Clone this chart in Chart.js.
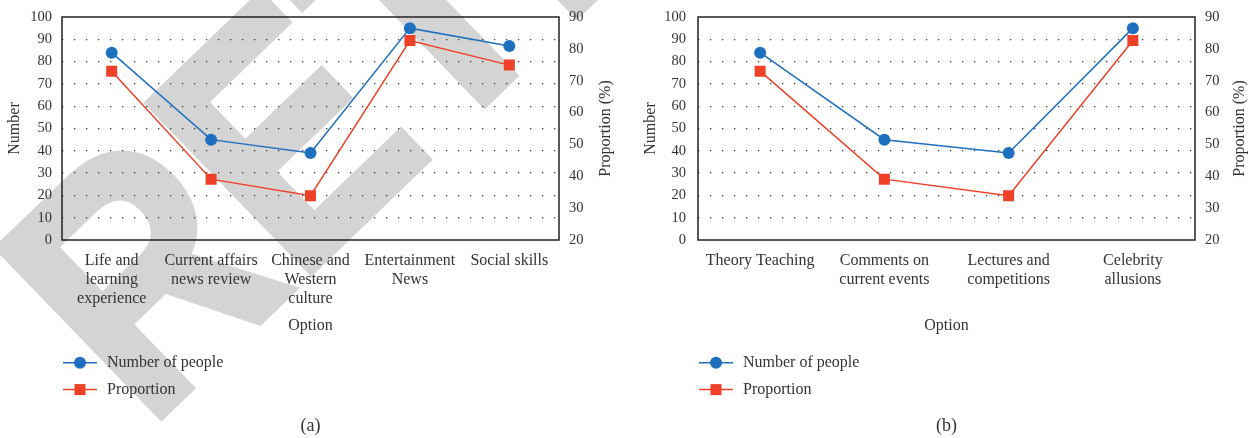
<!DOCTYPE html>
<html>
<head>
<meta charset="utf-8">
<script src="https://cdn.jsdelivr.net/npm/chart.js@4.4.1/dist/chart.umd.min.js"></script>
<style>
  html, body { margin: 0; padding: 0; background: #ffffff; }
  .panel { position: absolute; top: 0; width: 625px; height: 438px; }
  #panelA { left: 0; }
  #panelB { left: 628px; }
</style>
</head>
<body>
<div class="panel" id="panelA"><canvas id="chartA" width="625" height="438"></canvas></div>
<div class="panel" id="panelB"><canvas id="chartB" width="625" height="438"></canvas></div>
<script>
// Panel (a): options and survey results
const optionsA = [
  ['Life and', 'learning', 'experience'],
  ['Current affairs', 'news review'],
  ['Chinese and', 'Western', 'culture'],
  ['Entertainment', 'News'],
  'Social skills'
];
const peopleA = [84, 45, 39, 95, 87];
const proportionA = [73.0, 39.1, 33.9, 82.6, 74.9];

// Panel (b): options and survey results
const optionsB = [
  'Theory Teaching',
  ['Comments on', 'current events'],
  ['Lectures and', 'competitions'],
  ['Celebrity', 'allusions']
];
const peopleB = [84, 45, 39, 95];
const proportionB = [73.0, 39.1, 33.9, 82.6];

// Axis ranges
const numberAxis = { min: 0, max: 100, step: 10 };
const proportionAxis = { min: 20, max: 90, step: 10 };

const SERIF = '"Liberation Serif", "DejaVu Serif", serif';
const BLUE = '#1F6FBF';
const RED = '#EE4127';
const TEXT = '#333333';

const decorPlugin = {
  id: 'decor',
  beforeDraw(chart, args, opts) {
    if (!opts.watermark) return;
    const ctx = chart.ctx;
    const w = opts.watermark;
    ctx.save();
    ctx.translate(w.x, w.y);
    ctx.rotate(w.angle * Math.PI / 180);
    ctx.scale(w.squeeze, 1);
    ctx.font = 'bold ' + w.size + 'px "Liberation Sans", "DejaVu Sans", sans-serif';
    ctx.fillStyle = '#d4d4d4';
    ctx.strokeStyle = '#d4d4d4';
    ctx.lineWidth = w.weight;
    ctx.lineJoin = 'miter';
    ctx.textBaseline = 'alphabetic';
    ctx.textAlign = 'left';
    ctx.fillText(w.text, 0, 0);
    ctx.strokeText(w.text, 0, 0);
    ctx.restore();
  },
  afterDraw(chart, args, opts) {
    const ctx = chart.ctx;
    const a = chart.chartArea;
    ctx.save();
    // plot frame
    ctx.strokeStyle = '#222222';
    ctx.lineWidth = 1.5;
    ctx.strokeRect(Math.round(a.left), Math.round(a.top), Math.round(a.right - a.left), Math.round(a.bottom - a.top));

    // right axis title, reading upward
    ctx.save();
    ctx.translate(a.right + opts.rightTitleGap, (a.top + a.bottom) / 2);
    ctx.rotate(-Math.PI / 2);
    ctx.font = '16px ' + SERIF;
    ctx.fillStyle = TEXT;
    ctx.textAlign = 'center';
    ctx.textBaseline = 'middle';
    ctx.fillText('Proportion (%)', 0, 0);
    ctx.restore();

    // legend, one entry per row
    chart.data.datasets.forEach((ds, i) => {
      const y = opts.legendRows[i];
      const x0 = a.left + 1, x1 = a.left + 35, xm = a.left + 18;
      ctx.strokeStyle = ds.borderColor;
      ctx.lineWidth = 1.5;
      ctx.beginPath();
      ctx.moveTo(x0, y);
      ctx.lineTo(x1, y);
      ctx.stroke();
      ctx.fillStyle = ds.backgroundColor;
      Chart.helpers.drawPoint(ctx, {
        pointStyle: ds.pointStyle,
        radius: ds.pointRadius,
        rotation: 0,
        borderWidth: 0
      }, xm, y);
      ctx.font = '16px ' + SERIF;
      ctx.fillStyle = TEXT;
      ctx.textAlign = 'left';
      ctx.textBaseline = 'middle';
      ctx.fillText(ds.label, a.left + 45, y);
    });

    // panel caption
    ctx.font = '18px ' + SERIF;
    ctx.fillStyle = TEXT;
    ctx.textAlign = 'center';
    ctx.textBaseline = 'middle';
    ctx.fillText(opts.caption, (a.left + a.right) / 2, opts.captionY);
    ctx.restore();
  }
};

function makeChart(id, labels, people, proportion, cfg) {
  return new Chart(document.getElementById(id), {
    type: 'line',
    data: {
      labels: labels,
      datasets: [
        {
          label: 'Number of people',
          data: people,
          yAxisID: 'yN',
          borderColor: BLUE,
          backgroundColor: BLUE,
          borderWidth: 1.5,
          pointStyle: 'circle',
          pointRadius: 6,
          pointBorderWidth: 0,
          tension: 0
        },
        {
          label: 'Proportion',
          data: proportion,
          yAxisID: 'yP',
          borderColor: RED,
          backgroundColor: RED,
          borderWidth: 1.5,
          pointStyle: 'rect',
          pointRadius: 7.8,
          pointBorderWidth: 0,
          tension: 0
        }
      ]
    },
    options: {
      responsive: false,
      animation: false,
      devicePixelRatio: 1,
      layout: { padding: { top: 17, bottom: 102.4, left: 0, right: 0 } },
      plugins: {
        legend: { display: false },
        tooltip: { enabled: false },
        title: { display: false },
        decor: cfg.decor
      },
      scales: {
        x: {
          type: 'category',
          offset: true,
          grid: { display: false, drawTicks: false },
          border: { display: false },
          ticks: {
            autoSkip: false,
            maxRotation: 0,
            minRotation: 0,
            padding: 11,
            color: TEXT,
            font: { family: SERIF, size: 16, lineHeight: 1.2 }
          },
          title: {
            display: true,
            text: 'Option',
            color: TEXT,
            padding: 0,
            font: { family: SERIF, size: 16, lineHeight: 1.2 }
          },
          afterFit: s => { s.height = 95.6; }
        },
        yN: {
          position: 'left',
          min: numberAxis.min,
          max: numberAxis.max,
          grid: {
            drawTicks: false,
            lineWidth: 1.3,
            color: c => (c.tick && (c.tick.value === numberAxis.min || c.tick.value === numberAxis.max)) ? 'rgba(0,0,0,0)' : '#333333',
            borderDash: [1.3, 10.7]
          },
          border: { display: false, dash: [1.3, 10.7], dashOffset: 0 },
          ticks: {
            stepSize: numberAxis.step,
            padding: cfg.leftTickPad,
            color: TEXT,
            font: { family: SERIF, size: 14.5, lineHeight: 0.5 }
          },
          title: {
            display: true,
            text: 'Number',
            color: TEXT,
            padding: { top: cfg.leftTitlePad, bottom: 0 },
            font: { family: SERIF, size: 16, lineHeight: 1.2 }
          },
          afterFit: s => { s.width = cfg.leftWidth; }
        },
        yP: {
          position: 'right',
          min: proportionAxis.min,
          max: proportionAxis.max,
          grid: { display: false, drawTicks: false },
          border: { display: false },
          ticks: {
            stepSize: proportionAxis.step,
            padding: 10,
            color: TEXT,
            font: { family: SERIF, size: 14.5, lineHeight: 0.5 }
          },
          afterFit: s => { s.width = cfg.rightWidth; }
        }
      }
    },
    plugins: [decorPlugin]
  });
}

makeChart('chartA', optionsA, peopleA, proportionA, {
  leftWidth: 62,
  rightWidth: 66,
  leftTickPad: 10,
  leftTitlePad: 4.7,
  decor: {
    rightTitleGap: 47,
    legendRows: [362.8, 389.6],
    caption: '(a)',
    captionY: 426,
    watermark: { text: 'RETRACTED', size: 340, squeeze: 0.85, weight: 8, angle: -44, x: 147, y: 430 }
  }
});

makeChart('chartB', optionsB, peopleB, proportionB, {
  leftWidth: 70,
  rightWidth: 58,
  leftTickPad: 12,
  leftTitlePad: 13.6,
  decor: {
    rightTitleGap: 45,
    legendRows: [362.8, 389.6],
    caption: '(b)',
    captionY: 426,
    watermark: null
  }
});
</script>
</body>
</html>
